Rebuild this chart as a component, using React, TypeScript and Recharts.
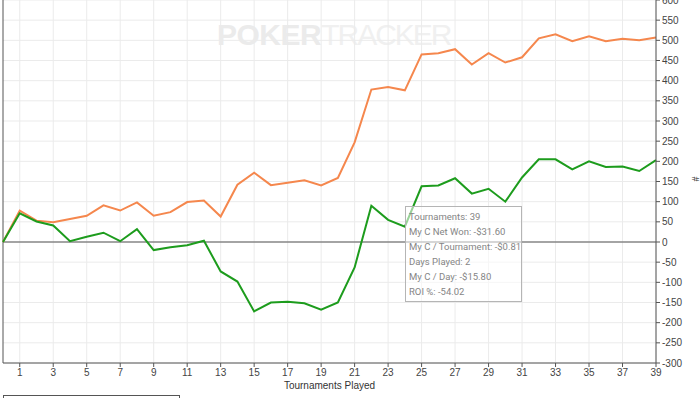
import {
  ComposedChart,
  Line,
  XAxis,
  YAxis,
  CartesianGrid,
  ReferenceLine,
} from "recharts";

const tournaments = Array.from({ length: 40 }, (_, i) => i);

const evAdjusted = [
  0, 78, 53, 49, 57, 65, 91, 78, 98, 65, 74, 99, 103, 63, 142, 172, 141, 147,
  153, 140, 159, 247, 378, 384, 376, 465, 468, 478, 440, 468, 445, 458, 505,
  515, 498, 510, 498, 504, 500, 507,
];

const netWon = [
  0, 71, 51, 41, 2, 13, 23, 2, 32, -20, -13, -8, 3, -73, -98, -172, -150, -148,
  -152, -168, -150, -63, 90, 55, 38, 138, 140, 158, 120, 132, 100, 160, 205,
  205, 180, 200, 186, 187, 176, 203,
];

const xTicks = [1, 3, 5, 7, 9, 11, 13, 15, 17, 19, 21, 23, 25, 27, 29, 31, 33, 35, 37, 39];
const yTicks = [-300, -250, -200, -150, -100, -50, 0, 50, 100, 150, 200, 250, 300, 350, 400, 450, 500, 550, 600];

const tooltipLines = [
  "Tournaments: 39",
  "My C Net Won: -$31.60",
  "My C / Tournament: -$0.81",
  "Days Played: 2",
  "My C / Day: -$15.80",
  "ROI %: -54.02",
];

const data = tournaments.map((t, i) => ({
  t,
  ev: evAdjusted[i],
  net: netWon[i],
}));

const axisFont = { fontSize: 10, fill: "#444", fontFamily: "Liberation Sans, Arial, sans-serif" };

export default function App() {
  return (
    <div
      style={{
        position: "absolute",
        left: 0,
        top: 0,
        width: 700,
        height: 398,
        background: "#fff",
        overflow: "hidden",
      }}
    >
      <div
        style={{
          position: "absolute",
          left: 217,
          top: 18,
          fontFamily: "Liberation Sans, Arial, sans-serif",
          fontSize: 30,
          letterSpacing: -0.5,
          whiteSpace: "nowrap",
          color: "#ebebeb",
        }}
      >
        <span style={{ fontWeight: 700 }}>POKER</span>
        <span style={{ fontWeight: 400, color: "#f0f0f0", letterSpacing: -2 }}>TRACKER</span>
      </div>

      <ComposedChart
        width={700}
        height={398}
        data={data}
        margin={{ top: 0, right: 0, left: 3, bottom: 5 }}
        style={{ position: "absolute", left: 0, top: 0 }}
      >
        <CartesianGrid stroke="#ebebeb" verticalValues={xTicks} horizontalValues={yTicks} />
        <XAxis
          dataKey="t"
          type="number"
          domain={[0, 39]}
          ticks={xTicks}
          interval={0}
          height={30}
          tick={axisFont}
          tickSize={4}
          stroke="#555"
          label={{
            value: "Tournaments Played",
            position: "insideBottom",
            offset: 4,
            style: { fontSize: 10, fill: "#333", fontFamily: "Liberation Sans, Arial, sans-serif" },
          }}
        />
        <YAxis
          orientation="right"
          type="number"
          domain={[-300, 600]}
          ticks={yTicks}
          interval={0}
          width={44}
          tick={axisFont}
          tickSize={4}
          stroke="#555"
          label={{
            value: "#",
            angle: 90,
            position: "insideRight",
            offset: 4,
            style: { fontSize: 10, fill: "#333" },
          }}
        />
        <ReferenceLine x={0} stroke="#555" strokeWidth={1} />
        <ReferenceLine y={0} stroke="#555" strokeWidth={1.2} />
        <Line
          type="linear"
          dataKey="ev"
          stroke="#f5874d"
          strokeWidth={2}
          dot={false}
          isAnimationActive={false}
        />
        <Line
          type="linear"
          dataKey="net"
          stroke="#1d9c1d"
          strokeWidth={2}
          dot={false}
          isAnimationActive={false}
        />
      </ComposedChart>

      <div
        style={{
          position: "absolute",
          left: 405,
          top: 206,
          width: 117,
          height: 96,
          border: "1px solid #b5b5b5",
          background: "rgba(255,255,255,0.55)",
          fontFamily: "Roboto, sans-serif",
          fontSize: 9.5,
          color: "#858585",
          paddingTop: 2,
          paddingLeft: 3,
          boxSizing: "border-box",
          whiteSpace: "nowrap",
        }}
      >
        {tooltipLines.map((l) => (
          <div key={l} style={{ height: 15, lineHeight: "15px" }}>
            {l}
          </div>
        ))}
      </div>

      <div
        style={{
          position: "absolute",
          left: 3,
          top: 395,
          width: 175,
          height: 10,
          border: "1px solid #555",
        }}
      />
    </div>
  );
}
